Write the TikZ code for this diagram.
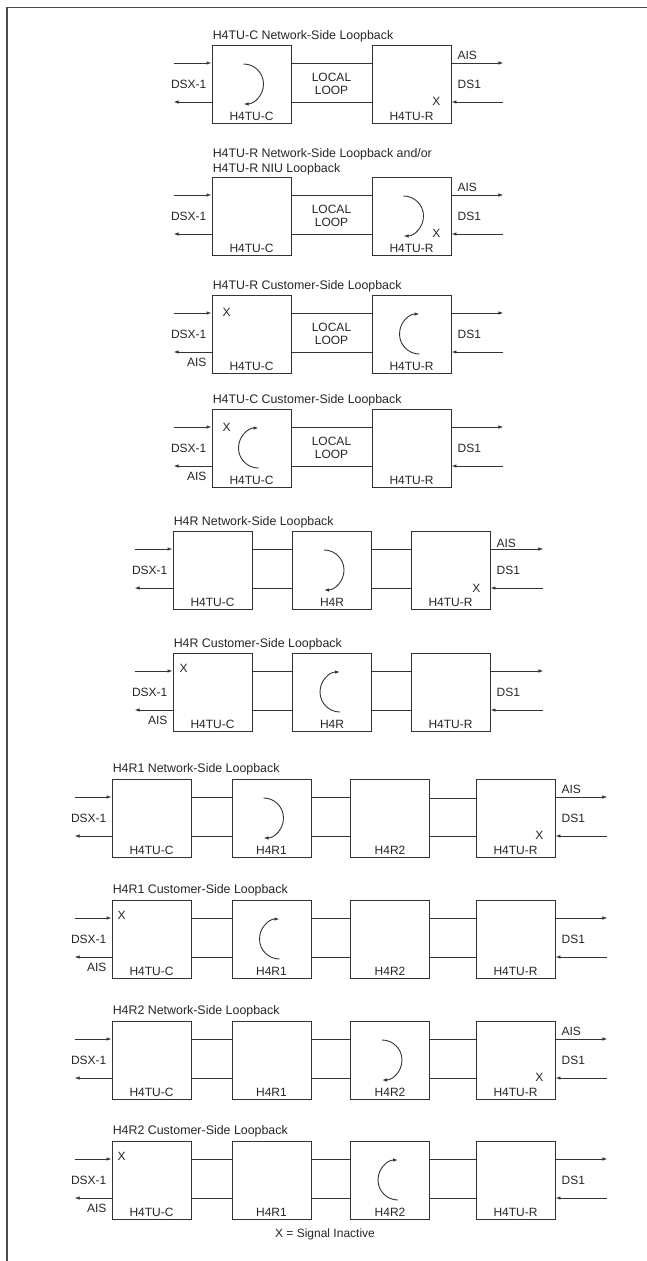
\documentclass[tikz,border=0pt]{standalone}
\usepackage{fontspec}
\setmainfont{Liberation Sans}
\usetikzlibrary{arrows.meta,positioning,calc}

\begin{document}
\begin{tikzpicture}[x=1pt,y=-1pt,
    every node/.style={font=\fontsize{12}{13}\selectfont,text=black!85},
    unit/.style={draw=black!80,line width=0.9pt,minimum width=79pt,minimum height=78pt,
        inner sep=0pt,label={[anchor=base,yshift=3pt]south:#1}},
    ttl/.style={anchor=base west,inner sep=0pt,xshift=1pt,font=\fontsize{12.4}{13}\selectfont},
    lft/.style={anchor=east,inner sep=0pt,xshift=-5pt},
    rgt/.style={anchor=west,inner sep=0pt,xshift=6pt},
    wire/.style={draw=black!80,line width=0.9pt},
    sig/.style={wire,-{Latex[length=5pt,width=3.5pt]}},
    inact/.style={inner sep=0pt},
    frame/.style={draw=black!70,line width=1.2pt}]
    \useasboundingbox (0,0) rectangle (647,1261);
    \draw[frame] (647,7.5) -- (7,7.5) -- (7,1261);

    % H4TU-C network-side
    \node[unit=H4TU-C] (p1c) at (251.5,84) {};
    \node[unit=H4TU-R] (p1r) at (411.5,84) {};
    \node[ttl] (t1) at ([yshift=5pt]p1c.north west) {H4TU-C Network-Side Loopback};
    \draw[wire] ([yshift=21pt]p1c.east) -- ([yshift=21pt]p1r.west)
        ([yshift=-18pt]p1c.east) -- ([yshift=-18pt]p1r.west);
    \node[align=center] (ll1) at ($(p1c)!0.5!(p1r)$) {LOCAL\\LOOP};
    \draw[sig] ([xshift=-38pt,yshift=21pt]p1c.west) -- ([yshift=21pt]p1c.west);
    \draw[sig] ([yshift=-18pt]p1c.west) -- ([xshift=-38pt,yshift=-18pt]p1c.west);
    \draw[sig] ([yshift=21pt]p1r.east) -- ([xshift=52pt,yshift=21pt]p1r.east);
    \draw[sig] ([xshift=52pt,yshift=-18pt]p1r.east) -- ([yshift=-18pt]p1r.east);
    \node[lft] (d1) at (p1c.west) {DSX-1};
    \node[rgt] (a1) at ([yshift=29pt]p1r.east) {AIS};
    \node[rgt] (s1) at (p1r.east) {DS1};
    \node[inact] (x1) at ([xshift=-15pt,yshift=-17pt]p1r.east) {X};
    \draw[sig] ([xshift=-8pt,yshift=20pt]p1c.center) arc[start angle=90,end angle=-90,radius=20pt];

    % H4TU-R network-side / NIU
    \node[unit=H4TU-C] (p2c) at (251.5,216) {};
    \node[unit=H4TU-R] (p2r) at (411.5,216) {};
    \node[ttl] (t2b) at ([yshift=4pt]p2c.north west) {H4TU-R NIU Loopback};
    \node[ttl] (t2a) at ([yshift=19pt]p2c.north west) {H4TU-R Network-Side Loopback and/or};
    \draw[wire] ([yshift=21pt]p2c.east) -- ([yshift=21pt]p2r.west)
        ([yshift=-18pt]p2c.east) -- ([yshift=-18pt]p2r.west);
    \node[align=center] (ll2) at ($(p2c)!0.5!(p2r)$) {LOCAL\\LOOP};
    \draw[sig] ([xshift=-38pt,yshift=21pt]p2c.west) -- ([yshift=21pt]p2c.west);
    \draw[sig] ([yshift=-18pt]p2c.west) -- ([xshift=-38pt,yshift=-18pt]p2c.west);
    \draw[sig] ([yshift=21pt]p2r.east) -- ([xshift=52pt,yshift=21pt]p2r.east);
    \draw[sig] ([xshift=52pt,yshift=-18pt]p2r.east) -- ([yshift=-18pt]p2r.east);
    \node[lft] (d2) at (p2c.west) {DSX-1};
    \node[rgt] (a2) at ([yshift=29pt]p2r.east) {AIS};
    \node[rgt] (s2) at (p2r.east) {DS1};
    \node[inact] (x2) at ([xshift=-15pt,yshift=-17pt]p2r.east) {X};
    \draw[sig] ([xshift=-8pt,yshift=20pt]p2r.center) arc[start angle=90,end angle=-90,radius=20pt];

    % H4TU-R customer-side
    \node[unit=H4TU-C] (p3c) at (251.5,334) {};
    \node[unit=H4TU-R] (p3r) at (411.5,334) {};
    \node[ttl] (t3) at ([yshift=5pt]p3c.north west) {H4TU-R Customer-Side Loopback};
    \draw[wire] ([yshift=21pt]p3c.east) -- ([yshift=21pt]p3r.west)
        ([yshift=-18pt]p3c.east) -- ([yshift=-18pt]p3r.west);
    \node[align=center] (ll3) at ($(p3c)!0.5!(p3r)$) {LOCAL\\LOOP};
    \draw[sig] ([xshift=-38pt,yshift=21pt]p3c.west) -- ([yshift=21pt]p3c.west);
    \draw[sig] ([yshift=-18pt]p3c.west) -- ([xshift=-38pt,yshift=-18pt]p3c.west);
    \draw[sig] ([yshift=21pt]p3r.east) -- ([xshift=52pt,yshift=21pt]p3r.east);
    \draw[sig] ([xshift=52pt,yshift=-18pt]p3r.east) -- ([yshift=-18pt]p3r.east);
    \node[lft] (d3) at (p3c.west) {DSX-1};
    \node[lft] (a3) at ([yshift=-28pt]p3c.west) {AIS};
    \node[rgt] (s3) at (p3r.east) {DS1};
    \node[inact] (x3) at ([xshift=15pt,yshift=22pt]p3c.west) {X};
    \draw[sig] ([xshift=8pt,yshift=-20pt]p3r.center) arc[start angle=270,end angle=90,radius=20pt];

    % H4TU-C customer-side
    \node[unit=H4TU-C] (p4c) at (251.5,448) {};
    \node[unit=H4TU-R] (p4r) at (411.5,448) {};
    \node[ttl] (t4) at ([yshift=5pt]p4c.north west) {H4TU-C Customer-Side Loopback};
    \draw[wire] ([yshift=21pt]p4c.east) -- ([yshift=21pt]p4r.west)
        ([yshift=-18pt]p4c.east) -- ([yshift=-18pt]p4r.west);
    \node[align=center] (ll4) at ($(p4c)!0.5!(p4r)$) {LOCAL\\LOOP};
    \draw[sig] ([xshift=-38pt,yshift=21pt]p4c.west) -- ([yshift=21pt]p4c.west);
    \draw[sig] ([yshift=-18pt]p4c.west) -- ([xshift=-38pt,yshift=-18pt]p4c.west);
    \draw[sig] ([yshift=21pt]p4r.east) -- ([xshift=52pt,yshift=21pt]p4r.east);
    \draw[sig] ([xshift=52pt,yshift=-18pt]p4r.east) -- ([yshift=-18pt]p4r.east);
    \node[lft] (d4) at (p4c.west) {DSX-1};
    \node[lft] (a4) at ([yshift=-28pt]p4c.west) {AIS};
    \node[rgt] (s4) at (p4r.east) {DS1};
    \node[inact] (x4) at ([xshift=15pt,yshift=21pt]p4c.west) {X};
    \draw[sig] ([xshift=7pt,yshift=-20pt]p4c.center) arc[start angle=270,end angle=90,radius=20pt];

    % H4R network-side
    \node[unit=H4TU-C] (p5c) at (212.5,570) {};
    \node[unit=H4R] (p5m) at (332,570) {};
    \node[unit=H4TU-R] (p5r) at (450.5,570) {};
    \node[ttl] (t5) at ([yshift=5pt]p5c.north west) {H4R Network-Side Loopback};
    \draw[wire] ([yshift=21pt]p5c.east) -- ([yshift=21pt]p5m.west)
        ([yshift=-18pt]p5c.east) -- ([yshift=-18pt]p5m.west)
        ([yshift=21pt]p5m.east) -- ([yshift=21pt]p5r.west)
        ([yshift=-18pt]p5m.east) -- ([yshift=-18pt]p5r.west);
    \draw[sig] ([xshift=-38pt,yshift=21pt]p5c.west) -- ([yshift=21pt]p5c.west);
    \draw[sig] ([yshift=-18pt]p5c.west) -- ([xshift=-38pt,yshift=-18pt]p5c.west);
    \draw[sig] ([yshift=21pt]p5r.east) -- ([xshift=53pt,yshift=21pt]p5r.east);
    \draw[sig] ([xshift=53pt,yshift=-18pt]p5r.east) -- ([yshift=-18pt]p5r.east);
    \node[lft] (d5) at (p5c.west) {DSX-1};
    \node[rgt] (a5) at ([yshift=27pt]p5r.east) {AIS};
    \node[rgt] (s5) at (p5r.east) {DS1};
    \node[inact] (x5) at ([xshift=-14pt,yshift=-18pt]p5r.east) {X};
    \draw[sig] ([xshift=-8pt,yshift=20pt]p5m.center) arc[start angle=90,end angle=-90,radius=20pt];

    % H4R customer-side
    \node[unit=H4TU-C] (p6c) at (212.5,692) {};
    \node[unit=H4R] (p6m) at (332,692) {};
    \node[unit=H4TU-R] (p6r) at (450.5,692) {};
    \node[ttl] (t6) at ([yshift=5pt]p6c.north west) {H4R Customer-Side Loopback};
    \draw[wire] ([yshift=21pt]p6c.east) -- ([yshift=21pt]p6m.west)
        ([yshift=-18pt]p6c.east) -- ([yshift=-18pt]p6m.west)
        ([yshift=21pt]p6m.east) -- ([yshift=21pt]p6r.west)
        ([yshift=-18pt]p6m.east) -- ([yshift=-18pt]p6r.west);
    \draw[sig] ([xshift=-38pt,yshift=21pt]p6c.west) -- ([yshift=21pt]p6c.west);
    \draw[sig] ([yshift=-18pt]p6c.west) -- ([xshift=-38pt,yshift=-18pt]p6c.west);
    \draw[sig] ([yshift=21pt]p6r.east) -- ([xshift=53pt,yshift=21pt]p6r.east);
    \draw[sig] ([xshift=53pt,yshift=-18pt]p6r.east) -- ([yshift=-18pt]p6r.east);
    \node[lft] (d6) at (p6c.west) {DSX-1};
    \node[lft] (a6) at ([yshift=-28pt]p6c.west) {AIS};
    \node[rgt] (s6) at (p6r.east) {DS1};
    \node[inact] (x6) at ([xshift=11pt,yshift=24pt]p6c.west) {X};
    \draw[sig] ([xshift=8pt,yshift=-20pt]p6m.center) arc[start angle=270,end angle=90,radius=20pt];

    % H4R1 network-side
    \node[unit=H4TU-C] (p7c) at (151.5,818) {};
    \node[unit=H4R1] (p7a) at (271.5,818) {};
    \node[unit=H4R2] (p7b) at (390,818) {};
    \node[unit=H4TU-R] (p7r) at (515.5,818) {};
    \node[ttl] (t7) at ([yshift=6pt]p7c.north west) {H4R1 Network-Side Loopback};
    \draw[wire] ([yshift=21pt]p7c.east) -- ([yshift=21pt]p7a.west)
        ([yshift=-18pt]p7c.east) -- ([yshift=-18pt]p7a.west)
        ([yshift=21pt]p7a.east) -- ([yshift=21pt]p7b.west)
        ([yshift=-18pt]p7a.east) -- ([yshift=-18pt]p7b.west)
        ([yshift=20pt]p7b.east) -- ([yshift=20pt]p7r.west)
        ([yshift=-18pt]p7b.east) -- ([yshift=-18pt]p7r.west);
    \draw[sig] ([xshift=-37pt,yshift=21pt]p7c.west) -- ([yshift=21pt]p7c.west);
    \draw[sig] ([yshift=-18pt]p7c.west) -- ([xshift=-37pt,yshift=-18pt]p7c.west);
    \draw[sig] ([yshift=21pt]p7r.east) -- ([xshift=52pt,yshift=21pt]p7r.east);
    \draw[sig] ([xshift=52pt,yshift=-18pt]p7r.east) -- ([yshift=-18pt]p7r.east);
    \node[lft] (d7) at (p7c.west) {DSX-1};
    \node[rgt] (a7) at ([yshift=29pt]p7r.east) {AIS};
    \node[rgt] (s7) at (p7r.east) {DS1};
    \node[inact] (x7) at ([xshift=-16pt,yshift=-17pt]p7r.east) {X};
    \draw[sig] ([xshift=-8pt,yshift=20pt]p7a.center) arc[start angle=90,end angle=-90,radius=20pt];

    % H4R1 customer-side
    \node[unit=H4TU-C] (p8c) at (151.5,939) {};
    \node[unit=H4R1] (p8a) at (271.5,939) {};
    \node[unit=H4R2] (p8b) at (390,939) {};
    \node[unit=H4TU-R] (p8r) at (515.5,939) {};
    \node[ttl] (t8) at ([yshift=6pt]p8c.north west) {H4R1 Customer-Side Loopback};
    \draw[wire] ([yshift=21pt]p8c.east) -- ([yshift=21pt]p8a.west)
        ([yshift=-18pt]p8c.east) -- ([yshift=-18pt]p8a.west)
        ([yshift=21pt]p8a.east) -- ([yshift=21pt]p8b.west)
        ([yshift=-18pt]p8a.east) -- ([yshift=-18pt]p8b.west)
        ([yshift=21pt]p8b.east) -- ([yshift=21pt]p8r.west)
        ([yshift=-18pt]p8b.east) -- ([yshift=-18pt]p8r.west);
    \draw[sig] ([xshift=-37pt,yshift=21pt]p8c.west) -- ([yshift=21pt]p8c.west);
    \draw[sig] ([yshift=-18pt]p8c.west) -- ([xshift=-37pt,yshift=-18pt]p8c.west);
    \draw[sig] ([yshift=21pt]p8r.east) -- ([xshift=52pt,yshift=21pt]p8r.east);
    \draw[sig] ([xshift=52pt,yshift=-18pt]p8r.east) -- ([yshift=-18pt]p8r.east);
    \node[lft] (d8) at (p8c.west) {DSX-1};
    \node[lft] (a8) at ([yshift=-28pt]p8c.west) {AIS};
    \node[rgt] (s8) at (p8r.east) {DS1};
    \node[inact] (x8) at ([xshift=10pt,yshift=24pt]p8c.west) {X};
    \draw[sig] ([xshift=8pt,yshift=-20pt]p8a.center) arc[start angle=270,end angle=90,radius=20pt];

    % H4R2 network-side
    \node[unit=H4TU-C] (p9c) at (151.5,1060) {};
    \node[unit=H4R1] (p9a) at (271.5,1060) {};
    \node[unit=H4R2] (p9b) at (390,1060) {};
    \node[unit=H4TU-R] (p9r) at (515.5,1060) {};
    \node[ttl] (t9) at ([yshift=6pt]p9c.north west) {H4R2 Network-Side Loopback};
    \draw[wire] ([yshift=21pt]p9c.east) -- ([yshift=21pt]p9a.west)
        ([yshift=-18pt]p9c.east) -- ([yshift=-18pt]p9a.west)
        ([yshift=21pt]p9a.east) -- ([yshift=21pt]p9b.west)
        ([yshift=-18pt]p9a.east) -- ([yshift=-18pt]p9b.west)
        ([yshift=21pt]p9b.east) -- ([yshift=21pt]p9r.west)
        ([yshift=-18pt]p9b.east) -- ([yshift=-18pt]p9r.west);
    \draw[sig] ([xshift=-37pt,yshift=21pt]p9c.west) -- ([yshift=21pt]p9c.west);
    \draw[sig] ([yshift=-18pt]p9c.west) -- ([xshift=-37pt,yshift=-18pt]p9c.west);
    \draw[sig] ([yshift=21pt]p9r.east) -- ([xshift=52pt,yshift=21pt]p9r.east);
    \draw[sig] ([xshift=52pt,yshift=-18pt]p9r.east) -- ([yshift=-18pt]p9r.east);
    \node[lft] (d9) at (p9c.west) {DSX-1};
    \node[rgt] (a9) at ([yshift=29pt]p9r.east) {AIS};
    \node[rgt] (s9) at (p9r.east) {DS1};
    \node[inact] (x9) at ([xshift=-16pt,yshift=-17pt]p9r.east) {X};
    \draw[sig] ([xshift=-8pt,yshift=20pt]p9b.center) arc[start angle=90,end angle=-90,radius=20pt];

    % H4R2 customer-side
    \node[unit=H4TU-C] (q0c) at (151.5,1180) {};
    \node[unit=H4R1] (q0a) at (271.5,1180) {};
    \node[unit=H4R2] (q0b) at (390,1180) {};
    \node[unit=H4TU-R] (q0r) at (515.5,1180) {};
    \node[ttl] (t10) at ([yshift=6pt]q0c.north west) {H4R2 Customer-Side Loopback};
    \draw[wire] ([yshift=21pt]q0c.east) -- ([yshift=21pt]q0a.west)
        ([yshift=-18pt]q0c.east) -- ([yshift=-18pt]q0a.west)
        ([yshift=21pt]q0a.east) -- ([yshift=21pt]q0b.west)
        ([yshift=-18pt]q0a.east) -- ([yshift=-18pt]q0b.west)
        ([yshift=21pt]q0b.east) -- ([yshift=21pt]q0r.west)
        ([yshift=-18pt]q0b.east) -- ([yshift=-18pt]q0r.west);
    \draw[sig] ([xshift=-37pt,yshift=21pt]q0c.west) -- ([yshift=21pt]q0c.west);
    \draw[sig] ([yshift=-18pt]q0c.west) -- ([xshift=-37pt,yshift=-18pt]q0c.west);
    \draw[sig] ([yshift=21pt]q0r.east) -- ([xshift=52pt,yshift=21pt]q0r.east);
    \draw[sig] ([xshift=52pt,yshift=-18pt]q0r.east) -- ([yshift=-18pt]q0r.east);
    \node[lft] (d10) at (q0c.west) {DSX-1};
    \node[lft] (a10) at ([yshift=-28pt]q0c.west) {AIS};
    \node[rgt] (s10) at (q0r.east) {DS1};
    \node[inact] (x10) at ([xshift=10pt,yshift=24pt]q0c.west) {X};
    \draw[sig] ([xshift=8pt,yshift=-20pt]q0b.center) arc[start angle=270,end angle=90,radius=20pt];

    \node (key) at (325,1234) {X = Signal Inactive};
\end{tikzpicture}
\end{document}
